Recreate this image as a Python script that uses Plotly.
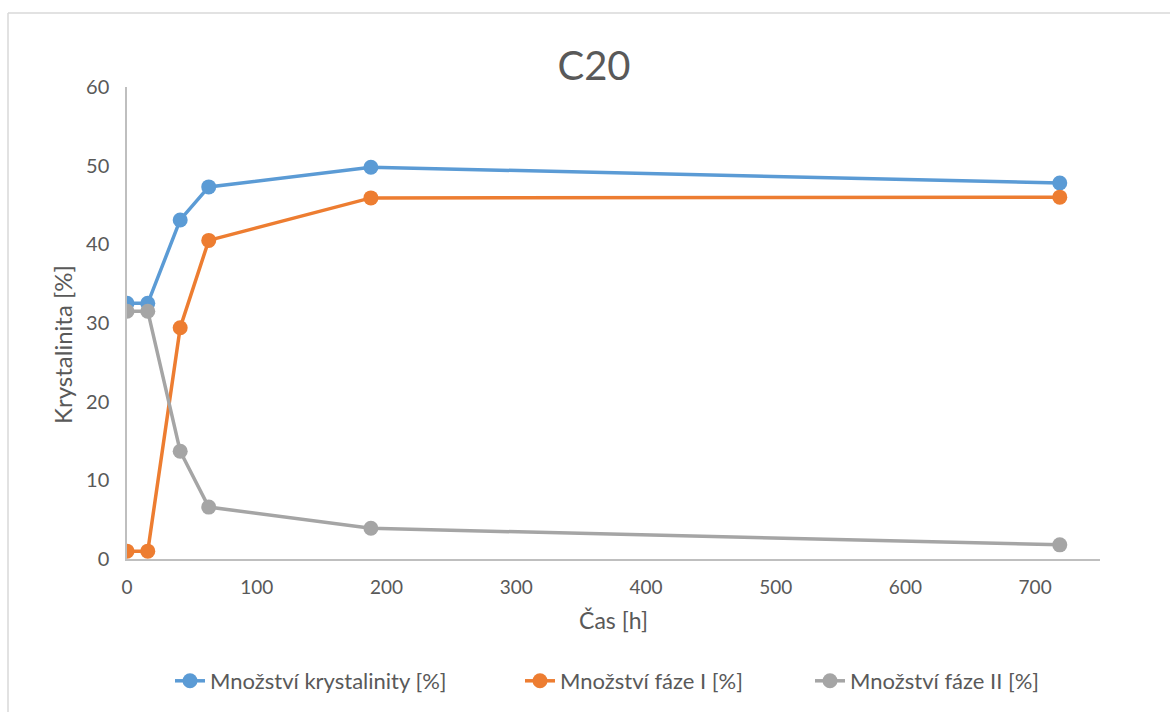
import plotly.graph_objects as go

# Sampling times [h]
cas_h = [0, 16, 41, 63, 188, 719]

# Measured fractions [%]
krystalinita = [32.5, 32.5, 43.1, 47.3, 49.8, 47.8]
faze_I = [1.0, 1.0, 29.4, 40.5, 45.9, 46.0]
faze_II = [31.5, 31.5, 13.7, 6.6, 3.9, 1.8]

series_names = ["Množství krystalinity [%]", "Množství fáze I [%]", "Množství fáze II [%]"]
series_colors = ["#5b9bd5", "#ed7d31", "#a5a5a5"]

x_ticks = [0, 100, 200, 300, 400, 500, 600, 700]
y_ticks = [0, 10, 20, 30, 40, 50, 60]

FONT = "Lato, 'Open Sans', sans-serif"
TEXT = "#595959"

W, H = 1170, 712
L, R, T, B = 127, 1100, 87, 559


def px_to_paper(px, py):
    return (px - L) / (R - L), (B - py) / (B - T)


# Each series gets its own legend box so the entries can be spaced freely
legend_ids = ["legend", "legend2", "legend3"]
legend_left_px = [170, 520, 810]

fig = go.Figure()
for name, vals, col, lg in zip(series_names, [krystalinita, faze_I, faze_II],
                               series_colors, legend_ids):
    fig.add_trace(go.Scatter(
        x=cas_h, y=vals, name=name, mode="lines+markers",
        line=dict(color=col, width=3.5),
        marker=dict(color=col, size=15),
        legend=lg, showlegend=True,
    ))

legend_y = (B - 681) / (B - T)
legend_cfg = {}
for lg, lx in zip(legend_ids, legend_left_px):
    legend_cfg[lg] = dict(
        x=px_to_paper(lx, 0)[0], xanchor="left", y=legend_y, yanchor="middle",
        orientation="h", font=dict(size=22, color=TEXT, family=FONT),
        bgcolor="rgba(0,0,0,0)", itemwidth=30, visible=True,
    )

# Chart-area frame (top and left edges)
x0, y0 = px_to_paper(8, 13)
x1, _ = px_to_paper(1170, 13)
_, y1 = px_to_paper(8, 712)
frame = dict(type="line", xref="paper", yref="paper",
             line=dict(color="#d9d9d9", width=1.5), layer="below")
shapes = [dict(frame, x0=x0, y0=y0, x1=x1, y1=y0),
          dict(frame, x0=x0, y0=y0, x1=x0, y1=y1)]

ytitle_x, ytitle_y = px_to_paper(62, 345)

fig.update_layout(
    width=W, height=H,
    showlegend=True,
    margin=dict(l=L, r=W - R, t=T, b=H - B, autoexpand=False),
    paper_bgcolor="white", plot_bgcolor="white",
    font=dict(family=FONT, color=TEXT, size=19),
    title=dict(text="C20", x=594 / W, xanchor="center", y=1 - 66 / H, yanchor="middle",
               font=dict(size=40, color=TEXT, family=FONT)),
    xaxis=dict(
        range=[0, 750], tickvals=x_ticks, ticktext=[str(v) for v in x_ticks],
        showgrid=False, zeroline=False,
        showline=True, linecolor="#bfbfbf", linewidth=1.5,
        ticks="", ticklen=0, automargin=False,
        title=dict(text="Čas [h]", font=dict(size=23, color=TEXT), standoff=16),
        tickfont=dict(size=19, color=TEXT),
    ),
    yaxis=dict(
        range=[0, 60], tickvals=y_ticks,
        showgrid=False, zeroline=False,
        showline=True, linecolor="#bfbfbf", linewidth=1.5,
        ticks="", ticklen=0, automargin=False,
        tickfont=dict(size=20, color=TEXT),
    ),
    annotations=[dict(
        text="Krystalinita [%]", xref="paper", yref="paper",
        x=ytitle_x, y=ytitle_y, xanchor="center", yanchor="middle",
        textangle=-90, showarrow=False, font=dict(size=24, color=TEXT, family=FONT),
    )],
    shapes=shapes,
    **legend_cfg,
)
fig.update_yaxes(ticklabelstandoff=12)
fig.update_xaxes(ticklabelstandoff=10)

fig.write_html("out.html")
